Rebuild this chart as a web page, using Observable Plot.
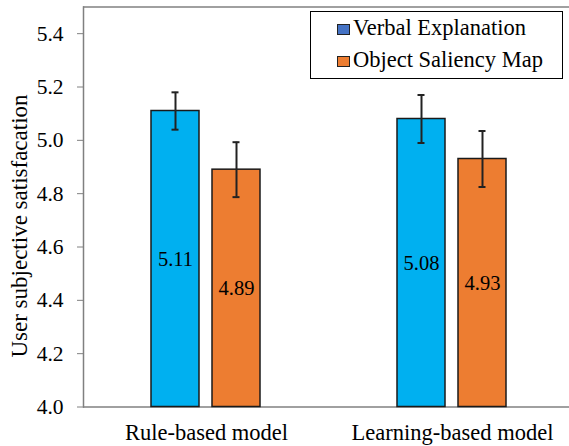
<!DOCTYPE html>
<html>
<head>
<meta charset="utf-8">
<script src="https://cdn.jsdelivr.net/npm/d3@7"></script>
<script src="https://cdn.jsdelivr.net/npm/@observablehq/plot@0.6"></script>
<style>
  html, body { margin: 0; padding: 0; background: white; overflow: hidden; font-family: 'Liberation Serif', serif; }
  #wrap { position: relative; width: 569px; height: 446px; font-family: 'Liberation Serif', serif; }
  #legend { position: absolute; left: 310px; top: 11px; width: 251px; height: 66px; border: 1px solid #000; background: #fff; }
  #ylabel { position: absolute; left: 20px; top: 226px; transform: translate(-50%, -50%) rotate(-90deg); font-size: 23px; line-height: 26px; white-space: nowrap; color: #000; font-family: 'Liberation Serif', serif; }
  g[aria-label="y-axis tick"] { stroke: #808080; }
</style>
</head>
<body>
<div id="wrap">
  <div id="chart"></div>
  <div id="ylabel"></div>
  <div id="legend"></div>
</div>
<script>
const models = ["Rule-based model", "Learning-based model"];
const seriesNames = ["Verbal Explanation", "Object Saliency Map"];
const barColors = ["#00B0F0", "#ED7D31"];
const legendColors = ["#4472C4", "#ED7D31"];
const verbalValues = [5.11, 5.08];
const saliencyValues = [4.89, 4.93];
const verbalErrors = [0.07, 0.09];
const saliencyErrors = [0.103, 0.105];
const yTicks = [4.0, 4.2, 4.4, 4.6, 4.8, 5.0, 5.2, 5.4];
const yDomain = [4.0, 5.5];
const yTitle = "User subjective satisfacation";

const data = [];
models.forEach((m, i) => {
  data.push({model: m, series: seriesNames[0], value: verbalValues[i], err: verbalErrors[i]});
  data.push({model: m, series: seriesNames[1], value: saliencyValues[i], err: saliencyErrors[i]});
});

const FONT = "'Liberation Serif', serif";

const chart = Plot.plot({
  width: 569,
  height: 446,
  marginLeft: 83,
  marginRight: -6,
  marginTop: 6.5,
  marginBottom: 39.5,
  style: {fontFamily: FONT, fontSize: "21px", color: "black", background: "white"},
  fx: {domain: models, padding: 0, label: null},
  x: {domain: seriesNames, paddingInner: 0.213, paddingOuter: 1.12, axis: null},
  y: {domain: yDomain, label: null, axis: null},
  color: {domain: seriesNames, range: barColors},
  marks: [
    Plot.ruleY([yDomain[0], yDomain[1]], {stroke: "#808080", strokeWidth: 1.5}),
    Plot.frame({anchor: "left", facetAnchor: "left", stroke: "#808080", strokeWidth: 1.5}),
    Plot.axisY({ticks: yTicks, tickFormat: d3.format(".1f"), tickSize: 6, tickPadding: 14, stroke: "#808080", fill: "black", fontSize: 21.5, fontFamily: FONT, label: null}),
    Plot.axisFx({anchor: "bottom", tickSize: 0, tickPadding: 17, fontSize: 22.5, fontFamily: FONT, fill: "black", label: null}),
    Plot.barY(data, {fx: "model", x: "series", y1: yDomain[0], y2: "value", fill: "series", stroke: "#1a1a1a", strokeWidth: 1.5}),
    Plot.ruleX(data, {fx: "model", x: "series", y1: d => d.value - d.err, y2: d => d.value + d.err, stroke: "#222", strokeWidth: 2}),
    Plot.tickY(data, {fx: "model", x: "series", y: d => d.value - d.err, stroke: "#222", strokeWidth: 2, insetLeft: 20.5, insetRight: 20.5}),
    Plot.tickY(data, {fx: "model", x: "series", y: d => d.value + d.err, stroke: "#222", strokeWidth: 2, insetLeft: 20.5, insetRight: 20.5}),
    Plot.text(data, {fx: "model", x: "series", y: d => (d.value + yDomain[0]) / 2, text: d => d.value.toFixed(2), fontSize: 20.5, fontFamily: FONT, fill: "black"})
  ]
});
document.getElementById("chart").appendChild(chart);

document.getElementById("ylabel").textContent = yTitle;
const legend = document.getElementById("legend");
seriesNames.forEach((s, i) => {
  const row = document.createElement("div");
  row.style.cssText = "position:absolute;left:26px;top:" + (i === 0 ? 3.5 : 35.5) + "px;height:24px;line-height:24px;font-size:22.5px;color:#000;white-space:nowrap;font-family:'Liberation Serif',serif;";
  const sw = document.createElement("span");
  sw.style.cssText = "display:inline-block;width:11px;height:9px;border:1px solid #222;margin-right:3px;vertical-align:middle;background:" + legendColors[i] + ";";
  const t = document.createElement("span");
  t.textContent = s;
  row.appendChild(sw);
  row.appendChild(t);
  legend.appendChild(row);
});
</script>
</body>
</html>
